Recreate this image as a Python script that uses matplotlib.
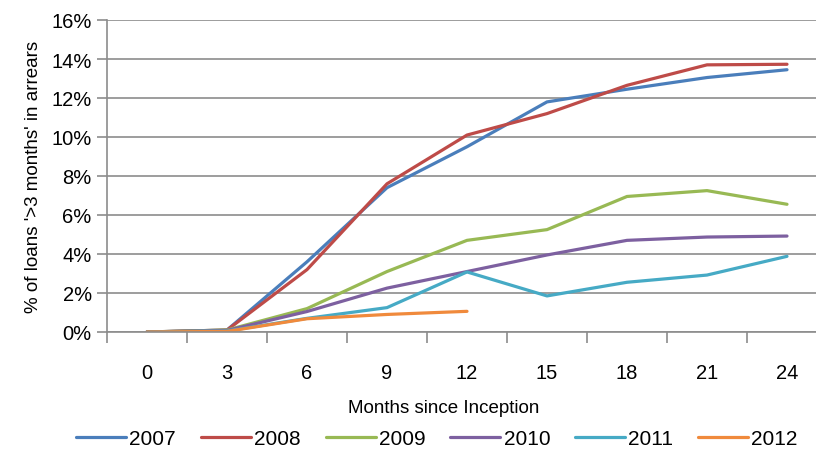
import numpy as np
import matplotlib.pyplot as plt
from matplotlib.ticker import FuncFormatter

# Months since inception (category axis)
months = [0, 3, 6, 9, 12, 15, 18, 21, 24]

# % of loans >3 months in arrears, by vintage
s2007 = [0.0, 0.10, 3.60, 7.40, 9.50, 11.80, 12.45, 13.05, 13.45]
s2008 = [0.0, 0.10, 3.20, 7.60, 10.10, 11.20, 12.65, 13.70, 13.73]
s2009 = [0.0, 0.10, 1.20, 3.10, 4.70, 5.25, 6.95, 7.25, 6.55]
s2010 = [0.0, 0.08, 1.05, 2.25, 3.10, 3.95, 4.70, 4.87, 4.92]
s2011 = [0.0, 0.05, 0.70, 1.25, 3.08, 1.85, 2.55, 2.92, 3.88]
s2012 = [0.0, 0.03, 0.68, 0.90, 1.06]

series = [s2007, s2008, s2009, s2010, s2011, s2012]
labels = ['2007', '2008', '2009', '2010', '2011', '2012']
colors = ['#4A7EBB', '#BE4B48', '#98B954', '#7D60A0', '#46AAC5', '#F08A3C']

plt.rcParams['font.family'] = ['Liberation Sans', 'DejaVu Sans']
grid_col = '#8C8C8C'

fig = plt.figure(figsize=(8.16, 4.52), dpi=100)
ax = fig.add_axes([107/816, 1-333/452, 720/816, (333-21)/452])

x = np.arange(len(months))
for vals, lab, col in zip(series, labels, colors):
    ax.plot(x[:len(vals)], vals, color=col, lw=2.3, label=lab, solid_capstyle='round')

ax.set_ylim(0, 16)
ax.set_xlim(-0.5, len(months) - 0.5)
ax.set_yticks(np.arange(0, 17, 2))
ax.yaxis.set_major_formatter(FuncFormatter(lambda v, p: '%d%%' % v))
ax.grid(axis='y', color=grid_col, lw=1.2)
ax.set_axisbelow(True)

# category ticks between labels
ax.set_xticks(np.arange(-0.5, len(months), 1.0))
ax.set_xticklabels([])
ax.set_xticks(x, minor=True)
ax.set_xticklabels([str(m) for m in months], minor=True)
ax.tick_params(axis='x', which='major', length=8, color=grid_col, width=1.2)
ax.tick_params(axis='x', which='minor', length=0, pad=22, labelsize=14.5)
ax.tick_params(axis='y', length=7, color=grid_col, width=1.2, labelsize=14.5, pad=4)

for s in ['top', 'right']:
    ax.spines[s].set_visible(False)
for s in ['left', 'bottom']:
    ax.spines[s].set_color(grid_col)
    ax.spines[s].set_linewidth(1.2)

ax.set_ylabel("% of loans '>3 months' in arrears", fontsize=13.5, labelpad=7)
fig.text(444/816, 1-409/452, 'Months since Inception', ha='center', va='center',
         fontsize=13.5)

fig.legend(loc='center', bbox_to_anchor=(437/816, 1-440/452), ncol=6, frameon=False,
           prop={'size': 15},
           handlelength=2.4, handletextpad=0.15, columnspacing=1.2)

fig.savefig('out.png', dpi=100)
